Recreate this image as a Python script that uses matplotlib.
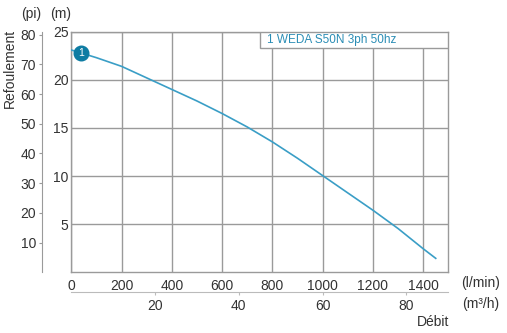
import numpy as np
import matplotlib
matplotlib.use("Agg")
import matplotlib.pyplot as plt
from matplotlib.patches import Rectangle

plt.rcParams['font.family'] = ['Liberation Sans', 'DejaVu Sans']

# Courbe de la pompe : debit (l/min) et hauteur de refoulement (m)
debit_lmin = [0, 100, 200, 300, 400, 500, 600, 700, 800, 900, 1000,
              1100, 1200, 1300, 1400, 1450]
hauteur_m = [23.1, 22.3, 21.4, 20.2, 19.0, 17.8, 16.5, 15.1, 13.55, 11.85,
             10.05, 8.25, 6.45, 4.55, 2.45, 1.45]

ticks_lmin = [0, 200, 400, 600, 800, 1000, 1200, 1400]
ticks_m = [5, 10, 15, 20, 25]
ticks_pi = [10, 20, 30, 40, 50, 60, 70, 80]
ticks_m3h = [20, 40, 60, 80]

nom_pompe = "1 WEDA S50N 3ph 50hz"
point_lmin = 40

W, H = 507, 333
txt = '#333333'
grille = '#9a9a9a'
courbe = '#3a9ec6'

fig = plt.figure(figsize=(W / 100, H / 100), dpi=100)
ax = fig.add_axes([71.3 / W, 1 - 272.3 / H, 377 / W, 240.6 / H])

ax.plot(debit_lmin, hauteur_m, color=courbe, lw=1.2, zorder=3)
ax.set_xlim(0, 1500)
ax.set_ylim(0, 25)
ax.set_xticks(ticks_lmin)
ax.set_yticks(ticks_m)
ax.grid(True, color=grille, lw=1.0)
ax.set_axisbelow(True)
for s in ax.spines.values():
    s.set_color(grille)
    s.set_linewidth(1.0)
ax.tick_params(axis='both', length=0, labelsize=10, colors=txt)
ax.tick_params(axis='x', pad=5)
ax.tick_params(axis='y', pad=2)

# marqueur numerote sur la courbe
point_m = np.interp(point_lmin, debit_lmin, hauteur_m)
ax.plot(point_lmin, point_m, 'o', ms=10.5, color='#0e7ca3', zorder=5, clip_on=False)
ax.text(point_lmin, point_m, "1", color='white', fontsize=7.5,
        ha='center', va='center', zorder=6)

# cartouche avec le nom de la pompe
x0 = (260 - 71.3) / 377
h = 16.6 / 240.6
ax.add_patch(Rectangle((x0, 1 - h), 1 - x0, h, transform=ax.transAxes,
                       facecolor='white', edgecolor=grille, lw=1.0, zorder=4))
ax.text(x0 + 7 / 377, 1 - h / 2, nom_pompe, transform=ax.transAxes,
        color='#2a8db5', fontsize=8.5, ha='left', va='center', zorder=5)

# axe secondaire en pieds
ax_pi = ax.twinx()
ax_pi.set_ylim(0, 81)
ax_pi.set_yticks(ticks_pi)
ax_pi.yaxis.tick_left()
ax_pi.spines['left'].set_position(('outward', 29 * 0.72))
ax_pi.spines['left'].set_color(grille)
for k in ('right', 'top', 'bottom'):
    ax_pi.spines[k].set_visible(False)
ax_pi.tick_params(axis='y', length=2.5, width=0.8, color=grille,
                  labelsize=10, labelcolor=txt, pad=2)

# axe secondaire en m3/h
ax_m3 = ax.twiny()
ax_m3.set_xlim(0, 1500 * 0.06)
ax_m3.set_xticks(ticks_m3h)
ax_m3.xaxis.tick_bottom()
ax_m3.spines['bottom'].set_position(('outward', 19.4 * 0.72))
ax_m3.spines['bottom'].set_color('#bbbbbb')
for k in ('right', 'top', 'left'):
    ax_m3.spines[k].set_visible(False)
ax_m3.tick_params(axis='x', length=2.5, width=0.8, color='#bbbbbb',
                  labelsize=10, labelcolor=txt, pad=3)

fig.text(31 / W, 1 - 14 / H, "(pi)", fontsize=10, color=txt, ha='center', va='center')
fig.text(61 / W, 1 - 14 / H, "(m)", fontsize=10, color=txt, ha='center', va='center')
fig.text(9.5 / W, 1 - 68 / H, "Refoulement", fontsize=10, color=txt,
         rotation=90, ha='center', va='center')
fig.text(481 / W, 1 - 282.5 / H, "(l/min)", fontsize=10, color=txt, ha='center', va='center')
fig.text(481 / W, 1 - 304 / H, "(m³/h)", fontsize=10, color=txt, ha='center', va='center')
fig.text(433 / W, 1 - 322 / H, "Débit", fontsize=10, color=txt, ha='center', va='center')

fig.savefig("out.png", dpi=100)
plt.close(fig)
